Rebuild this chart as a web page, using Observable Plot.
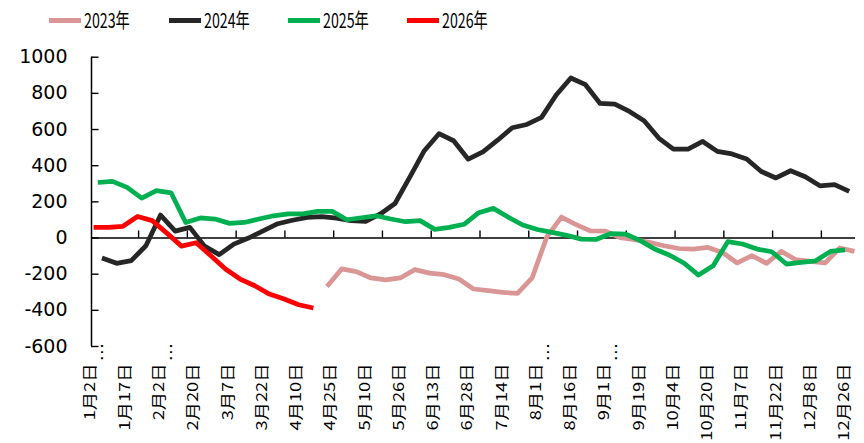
<!DOCTYPE html>
<html><head><meta charset="utf-8">
<script src="https://cdn.jsdelivr.net/npm/d3@7"></script>
<script src="https://cdn.jsdelivr.net/npm/@observablehq/plot@0.6"></script>
<style>
html,body{margin:0;padding:0;background:#fff;}
#wrap{width:864px;height:443px;overflow:hidden;position:relative;}
#legend{position:relative;height:40px;width:864px;}
.item{position:absolute;top:8px;height:24px;white-space:nowrap;}
.sw{position:absolute;left:0;top:10px;width:32px;height:5px;}
.lt{position:absolute;left:35px;top:0;font-family:"Noto Sans CJK SC","Noto Sans",sans-serif;font-size:20px;line-height:24px;transform:scaleX(0.71);transform-origin:left center;color:#000;}
svg{display:block;}
</style></head>
<body><div id="wrap"><div id="legend"></div><div id="chart"></div></div>
<script>
// ---- data ----
const years = ["2023年", "2024年", "2025年", "2026年"];
const colors = ["#D99694", "#262626", "#00B050", "#FF0000"];
const startDays = [112.5, 5, 3, 1]; // day-of-year of each series' first weekly point
const v2023 = [-268,-171,-186,-221,-232,-221,-175,-194,-203,-227,-282,-291,-301,-306,-221,5,116,74,39,38,2,-9,-24,-43,-58,-61,-52,-80,-138,-98,-140,-74,-120,-129,-138,-55,-74];
const v2024 = [-110,-140,-125,-43,127,38,59,-45,-92,-34,0,40,79,98,114,118,110,96,92,133,191,335,483,577,538,436,476,541,610,628,667,791,885,848,744,741,700,649,553,492,492,534,479,465,437,368,332,372,339,289,295,258];
const v2025 = [307,313,280,221,262,250,86,111,105,81,86,105,123,133,133,147,147,101,112,123,105,90,96,48,59,76,140,164,116,72,47,31,15,-6,-8,24,22,-13,-61,-94,-138,-205,-153,-20,-33,-61,-76,-144,-135,-126,-74,-66];
const v2026 = [59,59,65,119,96,27,-45,-26,-98,-171,-227,-264,-310,-337,-369,-387];
const seriesValues = [v2023, v2024, v2025, v2026];
const xLabels = ["1月2日","1月17日","2月2日","2月20日","3月7日","3月22日","4月10日","4月25日","5月10日","5月26日","6月13日","6月28日","7月14日","8月1日","8月16日","9月1日","9月19日","10月4日","10月20日","11月7日","11月22日","12月8日","12月26日"];
const truncated = ["1月2日","2月2日","8月1日","9月1日"];
const yTicks = [-600,-400,-200,0,200,400,600,800,1000];

// ---- table ----
const rows = seriesValues.flatMap((vals, s) =>
  vals.map((v, i) => ({year: years[s], day: startDays[s] + 7 * i, value: v})));
const labelRows = xLabels.map((t, k) => ({label: t, day: 1.91 + k * (360.1 / 22), trunc: truncated.includes(t)}));
const tickDays = d3.range(15).map(i => 22.5 + 23.3 * i);

// ---- legend ----
const legend = document.getElementById("legend");
const legendLeft = [49, 168.5, 288, 407];
years.forEach((y, i) => {
  const it = document.createElement("div");
  it.className = "item";
  it.setAttribute("style", `left:${legendLeft[i]}px;`);
  it.innerHTML = `<span class="sw" style="background:${colors[i]}"></span><span class="lt">${y}</span>`;
  legend.appendChild(it);
});

// ---- chart ----
const font = "'Noto Sans CJK SC', 'Noto Sans', sans-serif";
const chart = Plot.plot({
  width: 864, height: 403,
  marginLeft: 91, marginRight: 9, marginTop: 16.7, marginBottom: 97,
  x: {domain: [0, 365], axis: null},
  y: {domain: [-600, 1000], axis: null},
  color: {domain: years, range: colors},
  style: {background: "#fff"},
  marks: [
    Plot.axisY({ticks: yTicks, label: null, tickSize: 0, tickPadding: 24, tickFormat: d => String(d), fontSize: 19, fontFamily: "DejaVu Sans", fill: "#000"}),
    Plot.ruleY(yTicks, {x1: 0, x2: 3.6, stroke: "#000", strokeWidth: 1.4}),
    Plot.ruleX([0], {y1: -600, y2: 1000, stroke: "#000", strokeWidth: 1.5}),
    Plot.ruleY([0], {x1: 0, x2: 365, stroke: "#000", strokeWidth: 1.5}),
    Plot.ruleX(tickDays, {y1: 0, y2: 39, stroke: "#000", strokeWidth: 1.4}),
    Plot.text(labelRows, {x: "day", text: "label", frameAnchor: "bottom", rotate: -90, textAnchor: "end", dy: 17, fontSize: 15, fontFamily: font, fill: "#000"}),
    Plot.text(labelRows.filter(d => d.trunc), {x: "day", text: () => "…", frameAnchor: "bottom", rotate: -90, textAnchor: "middle", dy: 5.5, dx: 8, fontSize: 15, fontFamily: "DejaVu Sans", fill: "#000"}),
    Plot.line(rows, {x: "day", y: "value", z: "year", stroke: "year", strokeWidth: 4.75, strokeLinejoin: "round", strokeLinecap: "butt"})
  ]
});
chart.querySelectorAll('g[aria-label="text"] text').forEach(t => {
  const tr = t.getAttribute("transform");
  if (tr && tr.includes("rotate")) t.setAttribute("transform", tr + " scale(1.22,1)");
});
document.getElementById("chart").appendChild(chart);
</script></body></html>
